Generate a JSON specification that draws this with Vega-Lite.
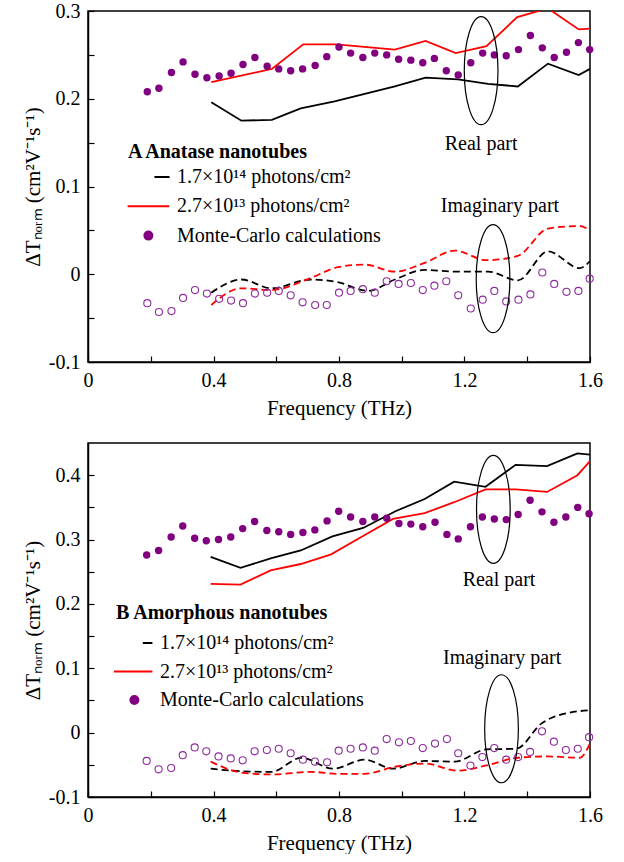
{
  "$schema": "https://vega.github.io/schema/vega-lite/v6.json",
  "padding": {"left": 21, "top": 0, "right": 5, "bottom": 0},
  "spacing": 23,
  "config": {
    "font": "Liberation Serif",
    "view": {"stroke": "black", "strokeWidth": 1.5},
    "text": {"font": "Liberation Serif", "fontSize": 20, "color": "black"}
  },
  "resolve": {"scale": {"y": "independent", "color": "independent"}, "legend": {"color": "independent"}},
  "datasets": {
    "linesA": [
      {"series": "1.7×10¹⁴ photons/cm²", "part": "Real", "f": 0.393, "v": 0.196},
      {"series": "1.7×10¹⁴ photons/cm²", "part": "Real", "f": 0.489, "v": 0.175},
      {"series": "1.7×10¹⁴ photons/cm²", "part": "Real", "f": 0.586, "v": 0.176},
      {"series": "1.7×10¹⁴ photons/cm²", "part": "Real", "f": 0.678, "v": 0.189},
      {"series": "1.7×10¹⁴ photons/cm²", "part": "Real", "f": 0.786, "v": 0.197},
      {"series": "1.7×10¹⁴ photons/cm²", "part": "Real", "f": 0.978, "v": 0.214},
      {"series": "1.7×10¹⁴ photons/cm²", "part": "Real", "f": 1.076, "v": 0.224},
      {"series": "1.7×10¹⁴ photons/cm²", "part": "Real", "f": 1.179, "v": 0.222},
      {"series": "1.7×10¹⁴ photons/cm²", "part": "Real", "f": 1.275, "v": 0.217},
      {"series": "1.7×10¹⁴ photons/cm²", "part": "Real", "f": 1.370, "v": 0.214},
      {"series": "1.7×10¹⁴ photons/cm²", "part": "Real", "f": 1.466, "v": 0.240},
      {"series": "1.7×10¹⁴ photons/cm²", "part": "Real", "f": 1.564, "v": 0.227},
      {"series": "1.7×10¹⁴ photons/cm²", "part": "Real", "f": 1.600, "v": 0.234},
      {"series": "2.7×10¹³ photons/cm²", "part": "Real", "f": 0.393, "v": 0.219},
      {"series": "2.7×10¹³ photons/cm²", "part": "Real", "f": 0.586, "v": 0.234},
      {"series": "2.7×10¹³ photons/cm²", "part": "Real", "f": 0.686, "v": 0.262},
      {"series": "2.7×10¹³ photons/cm²", "part": "Real", "f": 0.791, "v": 0.262},
      {"series": "2.7×10¹³ photons/cm²", "part": "Real", "f": 0.978, "v": 0.256},
      {"series": "2.7×10¹³ photons/cm²", "part": "Real", "f": 1.076, "v": 0.266},
      {"series": "2.7×10¹³ photons/cm²", "part": "Real", "f": 1.172, "v": 0.252},
      {"series": "2.7×10¹³ photons/cm²", "part": "Real", "f": 1.270, "v": 0.260},
      {"series": "2.7×10¹³ photons/cm²", "part": "Real", "f": 1.368, "v": 0.293},
      {"series": "2.7×10¹³ photons/cm²", "part": "Real", "f": 1.466, "v": 0.303},
      {"series": "2.7×10¹³ photons/cm²", "part": "Real", "f": 1.564, "v": 0.279},
      {"series": "2.7×10¹³ photons/cm²", "part": "Real", "f": 1.600, "v": 0.280},
      {"series": "1.7×10¹⁴ photons/cm²", "part": "Imaginary", "f": 0.393, "v": -0.021},
      {"series": "1.7×10¹⁴ photons/cm²", "part": "Imaginary", "f": 0.489, "v": -0.006},
      {"series": "1.7×10¹⁴ photons/cm²", "part": "Imaginary", "f": 0.584, "v": -0.016},
      {"series": "1.7×10¹⁴ photons/cm²", "part": "Imaginary", "f": 0.711, "v": -0.006},
      {"series": "1.7×10¹⁴ photons/cm²", "part": "Imaginary", "f": 0.796, "v": -0.009},
      {"series": "1.7×10¹⁴ photons/cm²", "part": "Imaginary", "f": 0.893, "v": -0.019},
      {"series": "1.7×10¹⁴ photons/cm²", "part": "Imaginary", "f": 0.978, "v": -0.006},
      {"series": "1.7×10¹⁴ photons/cm²", "part": "Imaginary", "f": 1.073, "v": 0.005},
      {"series": "1.7×10¹⁴ photons/cm²", "part": "Imaginary", "f": 1.169, "v": 0.003},
      {"series": "1.7×10¹⁴ photons/cm²", "part": "Imaginary", "f": 1.275, "v": 0.003},
      {"series": "1.7×10¹⁴ photons/cm²", "part": "Imaginary", "f": 1.370, "v": -0.007},
      {"series": "1.7×10¹⁴ photons/cm²", "part": "Imaginary", "f": 1.466, "v": 0.026},
      {"series": "1.7×10¹⁴ photons/cm²", "part": "Imaginary", "f": 1.567, "v": 0.007},
      {"series": "1.7×10¹⁴ photons/cm²", "part": "Imaginary", "f": 1.600, "v": 0.015},
      {"series": "2.7×10¹³ photons/cm²", "part": "Imaginary", "f": 0.393, "v": -0.035},
      {"series": "2.7×10¹³ photons/cm²", "part": "Imaginary", "f": 0.489, "v": -0.016},
      {"series": "2.7×10¹³ photons/cm²", "part": "Imaginary", "f": 0.584, "v": -0.018},
      {"series": "2.7×10¹³ photons/cm²", "part": "Imaginary", "f": 0.711, "v": -0.004},
      {"series": "2.7×10¹³ photons/cm²", "part": "Imaginary", "f": 0.796, "v": 0.008},
      {"series": "2.7×10¹³ photons/cm²", "part": "Imaginary", "f": 0.881, "v": 0.011},
      {"series": "2.7×10¹³ photons/cm²", "part": "Imaginary", "f": 0.978, "v": 0.003},
      {"series": "2.7×10¹³ photons/cm²", "part": "Imaginary", "f": 1.073, "v": 0.013},
      {"series": "2.7×10¹³ photons/cm²", "part": "Imaginary", "f": 1.169, "v": 0.027},
      {"series": "2.7×10¹³ photons/cm²", "part": "Imaginary", "f": 1.270, "v": 0.016},
      {"series": "2.7×10¹³ photons/cm²", "part": "Imaginary", "f": 1.370, "v": 0.021},
      {"series": "2.7×10¹³ photons/cm²", "part": "Imaginary", "f": 1.466, "v": 0.052},
      {"series": "2.7×10¹³ photons/cm²", "part": "Imaginary", "f": 1.567, "v": 0.055},
      {"series": "2.7×10¹³ photons/cm²", "part": "Imaginary", "f": 1.600, "v": 0.050}
    ],
    "mcA": [
      {"part": "Real", "f": 0.189, "v": 0.208}, {"part": "Real", "f": 0.226, "v": 0.212}, {"part": "Real", "f": 0.266, "v": 0.230}, {"part": "Real", "f": 0.303, "v": 0.242},
      {"part": "Real", "f": 0.341, "v": 0.228}, {"part": "Real", "f": 0.379, "v": 0.224}, {"part": "Real", "f": 0.418, "v": 0.226}, {"part": "Real", "f": 0.456, "v": 0.229},
      {"part": "Real", "f": 0.494, "v": 0.239}, {"part": "Real", "f": 0.532, "v": 0.247}, {"part": "Real", "f": 0.571, "v": 0.237}, {"part": "Real", "f": 0.608, "v": 0.234},
      {"part": "Real", "f": 0.646, "v": 0.232}, {"part": "Real", "f": 0.684, "v": 0.234}, {"part": "Real", "f": 0.724, "v": 0.238}, {"part": "Real", "f": 0.761, "v": 0.248},
      {"part": "Real", "f": 0.800, "v": 0.259}, {"part": "Real", "f": 0.837, "v": 0.252}, {"part": "Real", "f": 0.876, "v": 0.247}, {"part": "Real", "f": 0.914, "v": 0.252},
      {"part": "Real", "f": 0.952, "v": 0.250}, {"part": "Real", "f": 0.990, "v": 0.245}, {"part": "Real", "f": 1.029, "v": 0.244}, {"part": "Real", "f": 1.067, "v": 0.241},
      {"part": "Real", "f": 1.104, "v": 0.246}, {"part": "Real", "f": 1.142, "v": 0.232}, {"part": "Real", "f": 1.180, "v": 0.227}, {"part": "Real", "f": 1.220, "v": 0.241},
      {"part": "Real", "f": 1.258, "v": 0.252}, {"part": "Real", "f": 1.295, "v": 0.250}, {"part": "Real", "f": 1.333, "v": 0.249}, {"part": "Real", "f": 1.372, "v": 0.256},
      {"part": "Real", "f": 1.410, "v": 0.272}, {"part": "Real", "f": 1.448, "v": 0.258}, {"part": "Real", "f": 1.486, "v": 0.247}, {"part": "Real", "f": 1.525, "v": 0.253},
      {"part": "Real", "f": 1.563, "v": 0.264}, {"part": "Real", "f": 1.599, "v": 0.256},
      {"part": "Imaginary", "f": 0.189, "v": -0.033}, {"part": "Imaginary", "f": 0.226, "v": -0.043}, {"part": "Imaginary", "f": 0.266, "v": -0.042}, {"part": "Imaginary", "f": 0.303, "v": -0.027},
      {"part": "Imaginary", "f": 0.341, "v": -0.018}, {"part": "Imaginary", "f": 0.379, "v": -0.022}, {"part": "Imaginary", "f": 0.418, "v": -0.028}, {"part": "Imaginary", "f": 0.456, "v": -0.030},
      {"part": "Imaginary", "f": 0.494, "v": -0.033}, {"part": "Imaginary", "f": 0.532, "v": -0.022}, {"part": "Imaginary", "f": 0.571, "v": -0.021}, {"part": "Imaginary", "f": 0.608, "v": -0.019},
      {"part": "Imaginary", "f": 0.646, "v": -0.024}, {"part": "Imaginary", "f": 0.684, "v": -0.032}, {"part": "Imaginary", "f": 0.724, "v": -0.035}, {"part": "Imaginary", "f": 0.761, "v": -0.035},
      {"part": "Imaginary", "f": 0.800, "v": -0.021}, {"part": "Imaginary", "f": 0.837, "v": -0.019}, {"part": "Imaginary", "f": 0.876, "v": -0.017}, {"part": "Imaginary", "f": 0.914, "v": -0.021},
      {"part": "Imaginary", "f": 0.952, "v": -0.008}, {"part": "Imaginary", "f": 0.990, "v": -0.011}, {"part": "Imaginary", "f": 1.029, "v": -0.010}, {"part": "Imaginary", "f": 1.067, "v": -0.018},
      {"part": "Imaginary", "f": 1.104, "v": -0.013}, {"part": "Imaginary", "f": 1.142, "v": -0.008}, {"part": "Imaginary", "f": 1.180, "v": -0.024}, {"part": "Imaginary", "f": 1.220, "v": -0.039},
      {"part": "Imaginary", "f": 1.258, "v": -0.029}, {"part": "Imaginary", "f": 1.295, "v": -0.019}, {"part": "Imaginary", "f": 1.333, "v": -0.031}, {"part": "Imaginary", "f": 1.372, "v": -0.029},
      {"part": "Imaginary", "f": 1.410, "v": -0.023}, {"part": "Imaginary", "f": 1.448, "v": 0.002}, {"part": "Imaginary", "f": 1.486, "v": -0.011}, {"part": "Imaginary", "f": 1.525, "v": -0.020},
      {"part": "Imaginary", "f": 1.563, "v": -0.019}, {"part": "Imaginary", "f": 1.599, "v": -0.005}
    ],
    "notesA": [
      {"label": "Real part", "f": 1.253, "v": 0.149},
      {"label": "Imaginary part", "f": 1.313, "v": 0.078}
    ],
    "ringsA": [
      {"part": "Real", "f": 1.253, "v": 0.232},
      {"part": "Imaginary", "f": 1.291, "v": -0.005}
    ],
    "linesB": [
      {"series": "1.7×10¹⁴ photons/cm²", "part": "Real", "f": 0.391, "v": 0.273},
      {"series": "1.7×10¹⁴ photons/cm²", "part": "Real", "f": 0.486, "v": 0.256},
      {"series": "1.7×10¹⁴ photons/cm²", "part": "Real", "f": 0.585, "v": 0.271},
      {"series": "1.7×10¹⁴ photons/cm²", "part": "Real", "f": 0.678, "v": 0.283},
      {"series": "1.7×10¹⁴ photons/cm²", "part": "Real", "f": 0.779, "v": 0.305},
      {"series": "1.7×10¹⁴ photons/cm²", "part": "Real", "f": 0.877, "v": 0.318},
      {"series": "1.7×10¹⁴ photons/cm²", "part": "Real", "f": 0.980, "v": 0.344},
      {"series": "1.7×10¹⁴ photons/cm²", "part": "Real", "f": 1.073, "v": 0.363},
      {"series": "1.7×10¹⁴ photons/cm²", "part": "Real", "f": 1.167, "v": 0.390},
      {"series": "1.7×10¹⁴ photons/cm²", "part": "Real", "f": 1.267, "v": 0.382},
      {"series": "1.7×10¹⁴ photons/cm²", "part": "Real", "f": 1.363, "v": 0.416},
      {"series": "1.7×10¹⁴ photons/cm²", "part": "Real", "f": 1.463, "v": 0.414},
      {"series": "1.7×10¹⁴ photons/cm²", "part": "Real", "f": 1.560, "v": 0.434},
      {"series": "1.7×10¹⁴ photons/cm²", "part": "Real", "f": 1.600, "v": 0.432},
      {"series": "2.7×10¹³ photons/cm²", "part": "Real", "f": 0.391, "v": 0.231},
      {"series": "2.7×10¹³ photons/cm²", "part": "Real", "f": 0.486, "v": 0.230},
      {"series": "2.7×10¹³ photons/cm²", "part": "Real", "f": 0.582, "v": 0.252},
      {"series": "2.7×10¹³ photons/cm²", "part": "Real", "f": 0.678, "v": 0.262},
      {"series": "2.7×10¹³ photons/cm²", "part": "Real", "f": 0.775, "v": 0.277},
      {"series": "2.7×10¹³ photons/cm²", "part": "Real", "f": 0.871, "v": 0.304},
      {"series": "2.7×10¹³ photons/cm²", "part": "Real", "f": 0.972, "v": 0.332},
      {"series": "2.7×10¹³ photons/cm²", "part": "Real", "f": 1.073, "v": 0.341},
      {"series": "2.7×10¹³ photons/cm²", "part": "Real", "f": 1.167, "v": 0.358},
      {"series": "2.7×10¹³ photons/cm²", "part": "Real", "f": 1.267, "v": 0.378},
      {"series": "2.7×10¹³ photons/cm²", "part": "Real", "f": 1.363, "v": 0.378},
      {"series": "2.7×10¹³ photons/cm²", "part": "Real", "f": 1.463, "v": 0.374},
      {"series": "2.7×10¹³ photons/cm²", "part": "Real", "f": 1.560, "v": 0.400},
      {"series": "2.7×10¹³ photons/cm²", "part": "Real", "f": 1.600, "v": 0.422},
      {"series": "1.7×10¹⁴ photons/cm²", "part": "Imaginary", "f": 0.391, "v": -0.056},
      {"series": "1.7×10¹⁴ photons/cm²", "part": "Imaginary", "f": 0.489, "v": -0.060},
      {"series": "1.7×10¹⁴ photons/cm²", "part": "Imaginary", "f": 0.584, "v": -0.061},
      {"series": "1.7×10¹⁴ photons/cm²", "part": "Imaginary", "f": 0.680, "v": -0.039},
      {"series": "1.7×10¹⁴ photons/cm²", "part": "Imaginary", "f": 0.781, "v": -0.056},
      {"series": "1.7×10¹⁴ photons/cm²", "part": "Imaginary", "f": 0.882, "v": -0.042},
      {"series": "1.7×10¹⁴ photons/cm²", "part": "Imaginary", "f": 0.972, "v": -0.056},
      {"series": "1.7×10¹⁴ photons/cm²", "part": "Imaginary", "f": 1.073, "v": -0.044},
      {"series": "1.7×10¹⁴ photons/cm²", "part": "Imaginary", "f": 1.169, "v": -0.045},
      {"series": "1.7×10¹⁴ photons/cm²", "part": "Imaginary", "f": 1.270, "v": -0.026},
      {"series": "1.7×10¹⁴ photons/cm²", "part": "Imaginary", "f": 1.365, "v": -0.025},
      {"series": "1.7×10¹⁴ photons/cm²", "part": "Imaginary", "f": 1.445, "v": 0.014},
      {"series": "1.7×10¹⁴ photons/cm²", "part": "Imaginary", "f": 1.487, "v": 0.025},
      {"series": "1.7×10¹⁴ photons/cm²", "part": "Imaginary", "f": 1.600, "v": 0.035},
      {"series": "2.7×10¹³ photons/cm²", "part": "Imaginary", "f": 0.391, "v": -0.045},
      {"series": "2.7×10¹³ photons/cm²", "part": "Imaginary", "f": 0.489, "v": -0.062},
      {"series": "2.7×10¹³ photons/cm²", "part": "Imaginary", "f": 0.584, "v": -0.065},
      {"series": "2.7×10¹³ photons/cm²", "part": "Imaginary", "f": 0.711, "v": -0.061},
      {"series": "2.7×10¹³ photons/cm²", "part": "Imaginary", "f": 0.796, "v": -0.064},
      {"series": "2.7×10¹³ photons/cm²", "part": "Imaginary", "f": 0.881, "v": -0.064},
      {"series": "2.7×10¹³ photons/cm²", "part": "Imaginary", "f": 0.978, "v": -0.053},
      {"series": "2.7×10¹³ photons/cm²", "part": "Imaginary", "f": 1.073, "v": -0.048},
      {"series": "2.7×10¹³ photons/cm²", "part": "Imaginary", "f": 1.178, "v": -0.059},
      {"series": "2.7×10¹³ photons/cm²", "part": "Imaginary", "f": 1.270, "v": -0.051},
      {"series": "2.7×10¹³ photons/cm²", "part": "Imaginary", "f": 1.370, "v": -0.039},
      {"series": "2.7×10¹³ photons/cm²", "part": "Imaginary", "f": 1.466, "v": -0.037},
      {"series": "2.7×10¹³ photons/cm²", "part": "Imaginary", "f": 1.567, "v": -0.039},
      {"series": "2.7×10¹³ photons/cm²", "part": "Imaginary", "f": 1.600, "v": -0.017}
    ],
    "mcB": [
      {"part": "Real", "f": 0.187, "v": 0.276}, {"part": "Real", "f": 0.225, "v": 0.283}, {"part": "Real", "f": 0.265, "v": 0.304}, {"part": "Real", "f": 0.302, "v": 0.321},
      {"part": "Real", "f": 0.340, "v": 0.302}, {"part": "Real", "f": 0.377, "v": 0.298}, {"part": "Real", "f": 0.416, "v": 0.300}, {"part": "Real", "f": 0.455, "v": 0.304},
      {"part": "Real", "f": 0.493, "v": 0.317}, {"part": "Real", "f": 0.531, "v": 0.328}, {"part": "Real", "f": 0.570, "v": 0.314}, {"part": "Real", "f": 0.608, "v": 0.312},
      {"part": "Real", "f": 0.646, "v": 0.308}, {"part": "Real", "f": 0.685, "v": 0.311}, {"part": "Real", "f": 0.723, "v": 0.315}, {"part": "Real", "f": 0.762, "v": 0.329},
      {"part": "Real", "f": 0.799, "v": 0.344}, {"part": "Real", "f": 0.837, "v": 0.335}, {"part": "Real", "f": 0.876, "v": 0.328}, {"part": "Real", "f": 0.914, "v": 0.335},
      {"part": "Real", "f": 0.952, "v": 0.333}, {"part": "Real", "f": 0.991, "v": 0.325}, {"part": "Real", "f": 1.029, "v": 0.324}, {"part": "Real", "f": 1.067, "v": 0.320},
      {"part": "Real", "f": 1.106, "v": 0.327}, {"part": "Real", "f": 1.144, "v": 0.308}, {"part": "Real", "f": 1.180, "v": 0.301}, {"part": "Real", "f": 1.219, "v": 0.320},
      {"part": "Real", "f": 1.257, "v": 0.335}, {"part": "Real", "f": 1.295, "v": 0.332}, {"part": "Real", "f": 1.333, "v": 0.331}, {"part": "Real", "f": 1.371, "v": 0.339},
      {"part": "Real", "f": 1.409, "v": 0.361}, {"part": "Real", "f": 1.447, "v": 0.343}, {"part": "Real", "f": 1.485, "v": 0.327}, {"part": "Real", "f": 1.523, "v": 0.335},
      {"part": "Real", "f": 1.561, "v": 0.350}, {"part": "Real", "f": 1.597, "v": 0.340},
      {"part": "Imaginary", "f": 0.187, "v": -0.044}, {"part": "Imaginary", "f": 0.225, "v": -0.057}, {"part": "Imaginary", "f": 0.265, "v": -0.055}, {"part": "Imaginary", "f": 0.302, "v": -0.035},
      {"part": "Imaginary", "f": 0.340, "v": -0.023}, {"part": "Imaginary", "f": 0.377, "v": -0.029}, {"part": "Imaginary", "f": 0.416, "v": -0.037}, {"part": "Imaginary", "f": 0.455, "v": -0.040},
      {"part": "Imaginary", "f": 0.493, "v": -0.043}, {"part": "Imaginary", "f": 0.531, "v": -0.029}, {"part": "Imaginary", "f": 0.570, "v": -0.027}, {"part": "Imaginary", "f": 0.608, "v": -0.025},
      {"part": "Imaginary", "f": 0.646, "v": -0.032}, {"part": "Imaginary", "f": 0.685, "v": -0.042}, {"part": "Imaginary", "f": 0.723, "v": -0.045}, {"part": "Imaginary", "f": 0.762, "v": -0.046},
      {"part": "Imaginary", "f": 0.799, "v": -0.028}, {"part": "Imaginary", "f": 0.837, "v": -0.025}, {"part": "Imaginary", "f": 0.876, "v": -0.023}, {"part": "Imaginary", "f": 0.914, "v": -0.028},
      {"part": "Imaginary", "f": 0.952, "v": -0.010}, {"part": "Imaginary", "f": 0.991, "v": -0.015}, {"part": "Imaginary", "f": 1.029, "v": -0.013}, {"part": "Imaginary", "f": 1.067, "v": -0.024},
      {"part": "Imaginary", "f": 1.106, "v": -0.017}, {"part": "Imaginary", "f": 1.144, "v": -0.010}, {"part": "Imaginary", "f": 1.180, "v": -0.032}, {"part": "Imaginary", "f": 1.219, "v": -0.051},
      {"part": "Imaginary", "f": 1.257, "v": -0.038}, {"part": "Imaginary", "f": 1.295, "v": -0.024}, {"part": "Imaginary", "f": 1.333, "v": -0.042}, {"part": "Imaginary", "f": 1.371, "v": -0.038},
      {"part": "Imaginary", "f": 1.409, "v": -0.030}, {"part": "Imaginary", "f": 1.447, "v": 0.002}, {"part": "Imaginary", "f": 1.485, "v": -0.014}, {"part": "Imaginary", "f": 1.523, "v": -0.027},
      {"part": "Imaginary", "f": 1.561, "v": -0.025}, {"part": "Imaginary", "f": 1.597, "v": -0.007}
    ],
    "notesB": [
      {"label": "Real part", "f": 1.31, "v": 0.2365},
      {"label": "Imaginary part", "f": 1.32, "v": 0.116}
    ],
    "ringsB": [
      {"part": "Real", "f": 1.292, "v": 0.347},
      {"part": "Imaginary", "f": 1.318, "v": 0.006}
    ],
    "zero": [{"v": 0}]
  },
  "vconcat": [
    {
      "width": 502,
      "height": 351,
      "encoding": {
        "x": {"field": "f", "type": "quantitative", "scale": {"domain": [0, 1.6], "nice": false, "zero": false},
          "axis": {"title": "Frequency (THz)", "values": [0, 0.2, 0.4, 0.6, 0.8, 1, 1.2, 1.4, 1.6], "labelExpr": "abs(datum.value/0.4 - round(datum.value/0.4)) < 0.01 ? '' + round(datum.value*10)/10 : ''",
            "labelFont": "Liberation Serif", "labelFontSize": 20, "labelColor": "black", "titleFont": "Liberation Serif", "titleFontSize": 21, "titleFontWeight": "normal", "titleColor": "black",
            "domainColor": "black", "domainWidth": 1.5, "tickColor": "black", "tickWidth": 1.2, "tickSize": -6, "grid": false, "labelPadding": 14, "labelFlush": false, "labelOverlap": false, "titlePadding": 7}},
        "y": {"field": "v", "type": "quantitative", "scale": {"domain": [-0.1, 0.3], "nice": false, "zero": false},
          "axis": {"title": "ΔTₙₒᵣₘ (cm²V⁻¹s⁻¹)", "values": [-0.1, -0.05, 0, 0.05, 0.1, 0.15, 0.2, 0.25, 0.3], "labelExpr": "abs(datum.value*10 - round(datum.value*10)) < 0.01 ? '' + round(datum.value*10)/10 : ''",
            "labelFont": "Liberation Serif", "labelFontSize": 20, "labelColor": "black", "titleFont": "Liberation Serif", "titleFontSize": 21, "titleFontWeight": "normal", "titleColor": "black",
            "domainColor": "black", "domainWidth": 1.5, "tickColor": "black", "tickWidth": 1.2, "tickSize": -6, "grid": false, "labelPadding": 14, "labelOverlap": false, "titlePadding": 5}}
      },
      "layer": [
        {"data": {"name": "zero"}, "mark": {"type": "rule", "color": "black", "strokeWidth": 1.2}, "encoding": {"x": {"datum": 0}, "x2": {"datum": 1.6}}},
        {"data": {"name": "linesA"}, "transform": [{"filter": "datum.part === 'Real'"}],
          "mark": {"type": "line", "strokeWidth": 1.8, "clip": true},
          "encoding": {"color": {"field": "series", "type": "nominal",
            "scale": {"domain": ["1.7×10¹⁴ photons/cm²", "2.7×10¹³ photons/cm²", "Monte-Carlo calculations"], "range": ["#000000", "#ff0000", "#800080"]},
            "legend": {"title": "A  Anatase nanotubes", "orient": "none", "legendX": 40, "legendY": 131, "padding": 0,
              "titleFont": "Liberation Serif", "titleFontSize": 20, "titleFontWeight": "bold", "titleColor": "black", "titlePadding": 5, "titleLimit": 400,
              "labelFont": "Liberation Serif", "labelFontSize": 20, "labelColor": "black", "labelOffset": 29, "labelLimit": 400,
              "rowPadding": 9.3, "symbolSize": 64, "symbolStrokeWidth": 2,
              "encode": {"symbols": {"update": {
                "shape": {"signal": "datum.value === 'Monte-Carlo calculations' ? 'M1.6,0A1,1,0,1,1,3.6,0A1,1,0,1,1,1.6,0Z' : (datum.value === '2.7×10¹³ photons/cm²' ? 'M-2.6,0H7.8' : 'M4.1,0H7.9')"},
                "fill": {"signal": "datum.value === 'Monte-Carlo calculations' ? '#800080' : 'transparent'"},
                "stroke": {"signal": "datum.value === 'Monte-Carlo calculations' ? 'transparent' : (datum.value === '2.7×10¹³ photons/cm²' ? '#ff0000' : '#000000')"},
                "strokeWidth": {"value": 2}, "opacity": {"value": 1}}}}}},
            "order": {"field": "f"}}},
        {"data": {"name": "linesA"}, "transform": [{"filter": "datum.part === 'Imaginary'"}],
          "mark": {"type": "line", "strokeWidth": 1.8, "strokeDash": [7, 4], "interpolate": "monotone", "clip": true},
          "encoding": {"color": {"field": "series", "type": "nominal"}, "order": {"field": "f"}}},
        {"data": {"name": "mcA"}, "transform": [{"filter": "datum.part === 'Real'"}],
          "mark": {"type": "point", "filled": true, "color": "#800080", "size": 55, "opacity": 1}},
        {"data": {"name": "mcA"}, "transform": [{"filter": "datum.part === 'Imaginary'"}],
          "mark": {"type": "point", "filled": false, "color": "#8e2a9e", "size": 50, "strokeWidth": 1.1, "opacity": 1}},
        {"data": {"name": "ringsA"},
          "mark": {"type": "point", "shape": "M-0.312,0A0.312,1,0,1,1,0.312,0A0.312,1,0,1,1,-0.312,0Z", "size": 11664, "filled": false, "color": "black", "strokeWidth": 1.2, "opacity": 1}},
        {"data": {"name": "notesA"}, "mark": {"type": "text", "align": "center", "baseline": "middle", "fontSize": 20, "font": "Liberation Serif"}, "encoding": {"text": {"field": "label"}}}
      ]
    },
    {
      "width": 502,
      "height": 354,
      "encoding": {
        "x": {"field": "f", "type": "quantitative", "scale": {"domain": [0, 1.6], "nice": false, "zero": false},
          "axis": {"title": "Frequency (THz)", "values": [0, 0.2, 0.4, 0.6, 0.8, 1, 1.2, 1.4, 1.6], "labelExpr": "abs(datum.value/0.4 - round(datum.value/0.4)) < 0.01 ? '' + round(datum.value*10)/10 : ''",
            "labelFont": "Liberation Serif", "labelFontSize": 20, "labelColor": "black", "titleFont": "Liberation Serif", "titleFontSize": 21, "titleFontWeight": "normal", "titleColor": "black",
            "domainColor": "black", "domainWidth": 1.5, "tickColor": "black", "tickWidth": 1.2, "tickSize": -6, "grid": false, "labelPadding": 14, "labelFlush": false, "labelOverlap": false, "titlePadding": 7}},
        "y": {"field": "v", "type": "quantitative", "scale": {"domain": [-0.1, 0.45], "nice": false, "zero": false},
          "axis": {"title": "ΔTₙₒᵣₘ (cm²V⁻¹s⁻¹)", "values": [-0.1, -0.05, 0, 0.05, 0.1, 0.15, 0.2, 0.25, 0.3, 0.35, 0.4], "labelExpr": "abs(datum.value*10 - round(datum.value*10)) < 0.01 ? '' + round(datum.value*10)/10 : ''",
            "labelFont": "Liberation Serif", "labelFontSize": 20, "labelColor": "black", "titleFont": "Liberation Serif", "titleFontSize": 21, "titleFontWeight": "normal", "titleColor": "black",
            "domainColor": "black", "domainWidth": 1.5, "tickColor": "black", "tickWidth": 1.2, "tickSize": -6, "grid": false, "labelPadding": 14, "labelOverlap": false, "titlePadding": 5}}
      },
      "layer": [
        {"data": {"name": "zero"}, "mark": {"type": "rule", "color": "black", "strokeWidth": 1.2}, "encoding": {"x": {"datum": 0}, "x2": {"datum": 1.6}}},
        {"data": {"name": "linesB"}, "transform": [{"filter": "datum.part === 'Real'"}],
          "mark": {"type": "line", "strokeWidth": 1.8, "clip": true},
          "encoding": {"color": {"field": "series", "type": "nominal",
            "scale": {"domain": ["1.7×10¹⁴ photons/cm²", "2.7×10¹³ photons/cm²", "Monte-Carlo calculations"], "range": ["#000000", "#ff0000", "#800080"]},
            "legend": {"title": "B  Amorphous nanotubes", "orient": "none", "legendX": 28, "legendY": 160, "padding": 0,
              "titleFont": "Liberation Serif", "titleFontSize": 20, "titleFontWeight": "bold", "titleColor": "black", "titlePadding": 10, "titleLimit": 400,
              "labelFont": "Liberation Serif", "labelFontSize": 20, "labelColor": "black", "labelOffset": 24, "labelLimit": 400,
              "rowPadding": 8.5, "symbolSize": 64, "symbolStrokeWidth": 2,
              "encode": {"symbols": {"update": {
                "shape": {"signal": "datum.value === 'Monte-Carlo calculations' ? 'M1.1,0A1,1,0,1,1,3.1,0A1,1,0,1,1,1.1,0Z' : (datum.value === '2.7×10¹³ photons/cm²' ? 'M-3,0H6.6' : 'M4.2,0H6.6')"},
                "fill": {"signal": "datum.value === 'Monte-Carlo calculations' ? '#800080' : 'transparent'"},
                "stroke": {"signal": "datum.value === 'Monte-Carlo calculations' ? 'transparent' : (datum.value === '2.7×10¹³ photons/cm²' ? '#ff0000' : '#000000')"},
                "strokeWidth": {"value": 2}, "opacity": {"value": 1}}}}}},
            "order": {"field": "f"}}},
        {"data": {"name": "linesB"}, "transform": [{"filter": "datum.part === 'Imaginary'"}],
          "mark": {"type": "line", "strokeWidth": 1.8, "strokeDash": [7, 4], "interpolate": "monotone", "clip": true},
          "encoding": {"color": {"field": "series", "type": "nominal"}, "order": {"field": "f"}}},
        {"data": {"name": "mcB"}, "transform": [{"filter": "datum.part === 'Real'"}],
          "mark": {"type": "point", "filled": true, "color": "#800080", "size": 55, "opacity": 1}},
        {"data": {"name": "mcB"}, "transform": [{"filter": "datum.part === 'Imaginary'"}],
          "mark": {"type": "point", "filled": false, "color": "#8e2a9e", "size": 50, "strokeWidth": 1.1, "opacity": 1}},
        {"data": {"name": "ringsB"},
          "mark": {"type": "point", "shape": "M-0.312,0A0.312,1,0,1,1,0.312,0A0.312,1,0,1,1,-0.312,0Z", "size": 11664, "filled": false, "color": "black", "strokeWidth": 1.2, "opacity": 1}},
        {"data": {"name": "notesB"}, "mark": {"type": "text", "align": "center", "baseline": "middle", "fontSize": 20, "font": "Liberation Serif"}, "encoding": {"text": {"field": "label"}}}
      ]
    }
  ]
}
